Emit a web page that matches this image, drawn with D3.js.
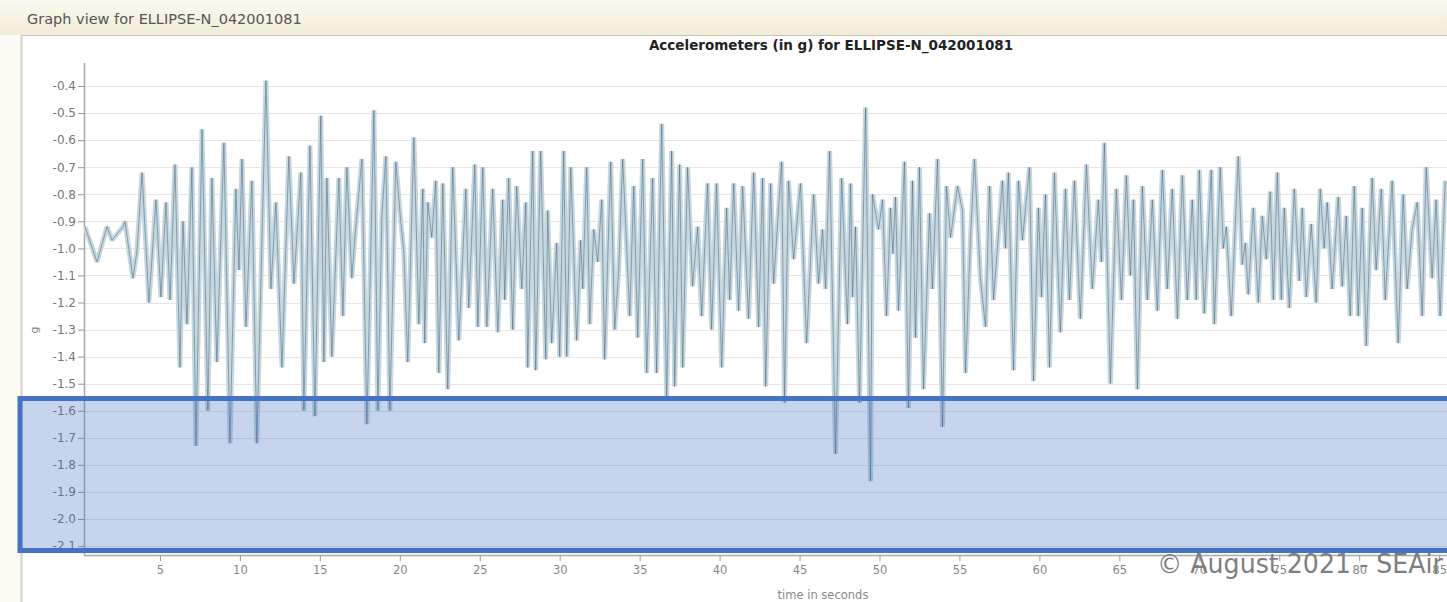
<!DOCTYPE html>
<html>
<head>
<meta charset="utf-8">
<script src="https://cdn.jsdelivr.net/npm/d3@7"></script>
<style>
  body { margin: 0; background: #fff; overflow: hidden; }
  text { font-family: "DejaVu Sans", sans-serif; }
</style>
</head>
<body>
<div id="vis"></div>
<script>
// frame constants
const FRAME_WIDTH = 1447;
const FRAME_HEIGHT = 602;

// text
const WINDOW_TITLE = "Graph view for ELLIPSE-N_042001081";
const CHART_TITLE = "Accelerometers (in g) for ELLIPSE-N_042001081";
const X_LABEL = "time in seconds";
const Y_LABEL = "g";
const COPYRIGHT = "\u00A9 August 2021 - SEAir";

// tick labels
const Y_TICKS = [-0.4, -0.5, -0.6, -0.7, -0.8, -0.9, -1.0, -1.1, -1.2, -1.3,
                 -1.4, -1.5, -1.6, -1.7, -1.8, -1.9, -2.0, -2.1];
const X_TICKS = [5, 10, 15, 20, 25, 30, 35, 40, 45, 50, 55, 60, 65, 70, 75, 80, 85];

// accelerometer trace (peaks and troughs)
const TIME_S = [
  // 0 - 21 s
  0.31, 1.06, 1.69, 2.00, 2.69, 2.81, 3.31, 3.56, 3.88, 4.31,
  4.75, 5.06, 5.38, 5.63, 5.94, 6.25, 6.44, 6.69, 7.00, 7.25,
  7.63, 8.00, 8.25, 8.56, 9.00, 9.38, 9.75, 9.94, 10.13, 10.38,
  10.75, 11.06, 11.63, 11.94, 12.25, 12.63, 13.06, 13.38, 13.81, 14.00,
  14.38, 14.69, 15.06, 15.25, 15.44, 15.75, 16.19, 16.44, 16.69, 17.00,
  17.19, 17.63, 17.94, 18.38, 18.63, 18.88, 19.13, 19.38, 19.75, 20.06,
  20.25, 20.50, 20.88,
  // 21 - 41 s
  21.19, 21.44, 21.56, 21.75, 22.00, 22.25, 22.44, 22.69, 23.00, 23.31,
  23.69, 24.13, 24.31, 24.69, 24.88, 25.19, 25.44, 25.81, 26.13, 26.44,
  26.56, 26.81, 27.06, 27.31, 27.63, 27.88, 28.00, 28.31, 28.50, 28.81,
  29.13, 29.25, 29.50, 29.81, 30.00, 30.25, 30.44, 30.69, 31.06, 31.31,
  31.44, 31.69, 31.88, 32.13, 32.38, 32.63, 32.81, 33.19, 33.44, 33.69,
  33.94, 34.38, 34.63, 34.88, 35.19, 35.44, 35.81, 36.06, 36.38, 36.69,
  37.00, 37.19, 37.50, 37.69, 38.00, 38.31, 38.63, 38.88, 39.25, 39.50,
  39.81, 40.13, 40.44, 40.63, 40.88, 41.19,
  // 41 - 62 s
  41.44, 41.81, 42.13, 42.44, 42.69, 42.88, 43.19, 43.38, 43.88, 44.06,
  44.31, 44.63, 45.06, 45.44, 45.88, 46.19, 46.44, 46.63, 46.88, 47.25,
  47.63, 48.00, 48.19, 48.31, 48.50, 48.75, 49.13, 49.44, 49.56, 49.94,
  50.19, 50.44, 50.69, 50.84, 51.00, 51.19, 51.56, 51.81, 52.06, 52.25,
  52.50, 52.75, 53.13, 53.31, 53.63, 53.94, 54.19, 54.44, 54.88, 55.19,
  55.38, 55.69, 55.94, 56.31, 56.63, 56.88, 57.13, 57.69, 57.88, 58.06,
  58.38, 58.69, 58.94, 59.38, 59.63, 59.94, 60.13, 60.38, 60.63, 60.94,
  61.31, 61.63,
  // 62 - 70 s
  61.88, 62.19, 62.56, 62.94, 63.31, 63.69, 63.88, 64.06, 64.44, 64.81,
  65.13, 65.44, 65.69, 65.88, 66.13, 66.44, 66.75, 67.06, 67.38, 67.69,
  68.00, 68.31, 68.63, 68.94, 69.25, 69.56, 69.81,
  // 70 - 86 s
  70.00, 70.31, 70.75, 70.94, 71.31, 71.50, 71.69, 72.00, 72.44, 72.69,
  72.88, 73.06, 73.38, 73.69, 73.94, 74.19, 74.44, 74.63, 74.88, 75.13,
  75.31, 75.63, 75.94, 76.25, 76.44, 76.69, 77.00, 77.31, 77.56, 77.81,
  78.00, 78.31, 78.69, 78.94, 79.19, 79.44, 79.69, 79.94, 80.19, 80.44,
  80.81, 81.06, 81.38, 81.63, 82.06, 82.44, 82.75, 83.00, 83.31, 83.63,
  83.94, 84.19, 84.56, 84.81, 85.06, 85.38
];

const ACCEL_G = [
  // 0 - 21 s
  -0.92, -1.05, -0.92, -0.97, -0.92, -0.90, -1.11, -1.01, -0.72, -1.20,
  -0.82, -1.18, -0.83, -1.19, -0.69, -1.44, -0.90, -1.28, -0.70, -1.73,
  -0.56, -1.60, -0.74, -1.42, -0.61, -1.72, -0.78, -1.08, -0.67, -1.29,
  -0.75, -1.72, -0.38, -1.15, -0.83, -1.44, -0.66, -1.13, -0.72, -1.60,
  -0.62, -1.62, -0.51, -1.42, -0.74, -1.40, -0.74, -1.25, -0.70, -1.11,
  -0.96, -0.67, -1.65, -0.49, -1.60, -0.88, -0.66, -1.60, -0.68, -0.90,
  -1.01, -1.42, -0.59,
  // 21 - 41 s
  -1.28, -0.78, -1.35, -0.83, -0.96, -0.75, -1.46, -0.76, -1.52, -0.70,
  -1.34, -0.78, -1.22, -0.69, -1.29, -0.70, -1.29, -0.78, -1.31, -0.82,
  -1.19, -0.74, -1.30, -0.77, -1.15, -0.83, -1.44, -0.64, -1.45, -0.64,
  -1.41, -0.86, -1.35, -0.98, -1.40, -0.64, -1.40, -0.70, -1.34, -0.97,
  -1.15, -0.70, -1.28, -0.93, -1.05, -0.82, -1.41, -0.68, -1.30, -1.08,
  -0.67, -1.25, -0.77, -1.33, -0.67, -1.46, -0.74, -1.46, -0.54, -1.56,
  -0.64, -1.51, -0.69, -1.44, -0.70, -1.14, -0.92, -1.25, -0.76, -1.30,
  -0.76, -1.44, -0.85, -1.19, -0.76, -1.23,
  // 41 - 62 s
  -0.77, -1.26, -0.72, -1.29, -0.74, -1.51, -0.76, -1.13, -0.68, -1.57,
  -0.75, -1.04, -0.76, -1.35, -0.80, -1.13, -0.93, -1.15, -0.64, -1.76,
  -0.74, -1.28, -0.76, -1.18, -0.92, -1.57, -0.48, -1.86, -0.80, -0.93,
  -0.82, -1.25, -0.85, -1.02, -0.81, -1.23, -0.68, -1.59, -0.75, -1.33,
  -0.70, -1.52, -0.87, -1.15, -0.67, -1.66, -0.77, -0.96, -0.77, -0.86,
  -1.46, -0.96, -0.67, -1.11, -1.29, -0.77, -1.19, -0.75, -1.00, -0.72,
  -1.45, -0.75, -0.97, -0.70, -1.49, -0.85, -1.18, -0.80, -1.44, -0.72,
  -1.31, -0.78,
  // 62 - 70 s
  -1.19, -0.75, -1.26, -0.69, -1.15, -0.82, -1.05, -0.61, -1.50, -0.78,
  -1.19, -0.73, -1.10, -0.82, -1.52, -0.77, -1.19, -0.82, -1.23, -0.71,
  -1.15, -0.78, -1.26, -0.73, -1.19, -0.82, -1.19,
  // 70 - 86 s
  -0.71, -1.24, -0.71, -1.28, -0.70, -1.00, -0.92, -1.25, -0.66, -1.06,
  -0.98, -1.17, -0.85, -1.20, -0.88, -1.04, -0.79, -1.19, -0.72, -1.19,
  -0.85, -1.22, -0.78, -1.12, -0.85, -1.18, -0.91, -1.20, -0.78, -1.00,
  -0.83, -1.15, -0.81, -1.14, -0.88, -1.25, -0.77, -1.25, -0.85, -1.36,
  -0.74, -1.08, -0.78, -1.19, -0.75, -1.35, -0.80, -1.15, -0.93, -0.83,
  -1.25, -0.70, -1.11, -0.82, -1.25, -0.75
];

// plot area
const PLOT = {left: 84, top: 63, bottom: 555, right: FRAME_WIDTH};

const svg = d3.select("#vis")
  .append("svg")
    .attr("width", FRAME_WIDTH)
    .attr("height", FRAME_HEIGHT);

// window chrome
const defs = svg.append("defs");
const grad = defs.append("linearGradient")
  .attr("id", "bar").attr("x1", 0).attr("y1", 0).attr("x2", 0).attr("y2", 1);
grad.append("stop").attr("offset", "0%").attr("stop-color", "#fbf9f0");
grad.append("stop").attr("offset", "100%").attr("stop-color", "#f1ecd8");

defs.append("clipPath").attr("id", "clip")
  .append("rect")
    .attr("x", PLOT.left).attr("y", 0)
    .attr("width", PLOT.right - PLOT.left).attr("height", PLOT.bottom);

svg.append("rect")
  .attr("x", 0).attr("y", 0)
  .attr("width", FRAME_WIDTH).attr("height", 35)
  .attr("fill", "url(#bar)");

svg.append("rect")
  .attr("x", 0).attr("y", 35)
  .attr("width", 21).attr("height", FRAME_HEIGHT - 35)
  .attr("fill", "#fcfbf6");

svg.append("line")
  .attr("x1", 21).attr("x2", FRAME_WIDTH)
  .attr("y1", 35.5).attr("y2", 35.5)
  .attr("stroke", "#c8c3b3");

svg.append("line")
  .attr("x1", 21.5).attr("x2", 21.5)
  .attr("y1", 35).attr("y2", FRAME_HEIGHT)
  .attr("stroke", "#d5d0bf")
  .attr("stroke-width", 2);

svg.append("text")
  .attr("x", 27).attr("y", 24)
  .attr("font-size", "14.5px")
  .attr("fill", "#555")
  .text(WINDOW_TITLE);

// scales
const X_SCALE = d3.scaleLinear()
  .domain([0, 86])
  .range([80, 80 + 86 * 15.99]);

const Y_SCALE = d3.scaleLinear()
  .domain([-0.315, -2.133])
  .range([PLOT.top, PLOT.bottom]);

// gridlines
svg.append("g")
  .selectAll("line")
  .data(Y_TICKS)
  .enter()
  .append("line")
    .attr("x1", PLOT.left).attr("x2", PLOT.right)
    .attr("y1", (d) => { return Math.round(Y_SCALE(d)) + 0.5; })
    .attr("y2", (d) => { return Math.round(Y_SCALE(d)) + 0.5; })
    .attr("stroke", "#e6e6e6");

// y axis
const yAxis = svg.append("g")
  .attr("transform", "translate(" + PLOT.left + ",0)")
  .call(d3.axisLeft(Y_SCALE).tickValues(Y_TICKS).tickSize(6).tickPadding(2)
          .tickFormat((d) => { return d.toFixed(1); }));
yAxis.select(".domain").remove();
yAxis.selectAll(".tick line").attr("stroke", "#999");
yAxis.selectAll("text")
  .attr("fill", "#777")
  .attr("font-size", "12px")
  .attr("font-family", "DejaVu Sans");

svg.append("line")
  .attr("x1", PLOT.left + 0.5).attr("x2", PLOT.left + 0.5)
  .attr("y1", PLOT.top).attr("y2", PLOT.bottom)
  .attr("stroke", "#a8a8a8")
  .attr("stroke-width", 1.5);

// x axis
const xAxis = svg.append("g")
  .attr("transform", "translate(0," + PLOT.bottom + ")")
  .call(d3.axisBottom(X_SCALE).tickValues(X_TICKS).tickSize(6).tickPadding(5));
xAxis.select(".domain").remove();
xAxis.selectAll(".tick line").attr("stroke", "#999");
xAxis.selectAll("text")
  .attr("fill", "#888")
  .attr("font-size", "11.5px")
  .attr("font-family", "DejaVu Sans");

svg.append("line")
  .attr("x1", PLOT.left).attr("x2", PLOT.right)
  .attr("y1", PLOT.bottom + 0.5).attr("y2", PLOT.bottom + 0.5)
  .attr("stroke", "#aaa")
  .attr("stroke-width", 1.5);

// titles
svg.append("text")
  .attr("x", 831).attr("y", 50)
  .attr("text-anchor", "middle")
  .attr("font-size", "13.5px")
  .attr("font-weight", "bold")
  .attr("fill", "#222")
  .text(CHART_TITLE);

svg.append("text")
  .attr("x", 823).attr("y", 599)
  .attr("text-anchor", "middle")
  .attr("font-size", "11.5px")
  .attr("fill", "#888")
  .text(X_LABEL);

svg.append("text")
  .attr("transform", "translate(38,330) rotate(-90)")
  .attr("text-anchor", "middle")
  .attr("font-size", "11px")
  .attr("fill", "#888")
  .text(Y_LABEL);

// trace: wide pale band with a thin darker core
const points = d3.zip(TIME_S, ACCEL_G);
const line = d3.line()
  .x((d) => { return X_SCALE(d[0]); })
  .y((d) => { return Y_SCALE(d[1]); });

const trace = svg.append("g").attr("clip-path", "url(#clip)");
trace.append("path")
  .datum(points)
  .attr("d", line)
  .attr("fill", "none")
  .attr("stroke", "#c6d7de")
  .attr("stroke-width", 5)
  .attr("stroke-linejoin", "bevel");
trace.append("path")
  .datum(points)
  .attr("d", line)
  .attr("fill", "none")
  .attr("stroke", "#34506e")
  .attr("stroke-width", 1)
  .attr("stroke-opacity", 0.45)
  .attr("stroke-linejoin", "bevel");

// highlight box
svg.append("rect")
  .attr("x", 20).attr("y", 398.5)
  .attr("width", FRAME_WIDTH + 10 - 20).attr("height", 152)
  .attr("fill", "#4472c4")
  .attr("fill-opacity", 0.3)
  .attr("stroke", "#4472c4")
  .attr("stroke-width", 5);

// copyright
svg.append("text")
  .attr("x", 1443).attr("y", 573)
  .attr("text-anchor", "end")
  .attr("font-family", "Liberation Sans")
  .attr("font-size", "26px")
  .attr("fill", "#7f7f7f")
  .attr("textLength", 286)
  .attr("lengthAdjust", "spacingAndGlyphs")
  .text(COPYRIGHT);
</script>
</body>
</html>
